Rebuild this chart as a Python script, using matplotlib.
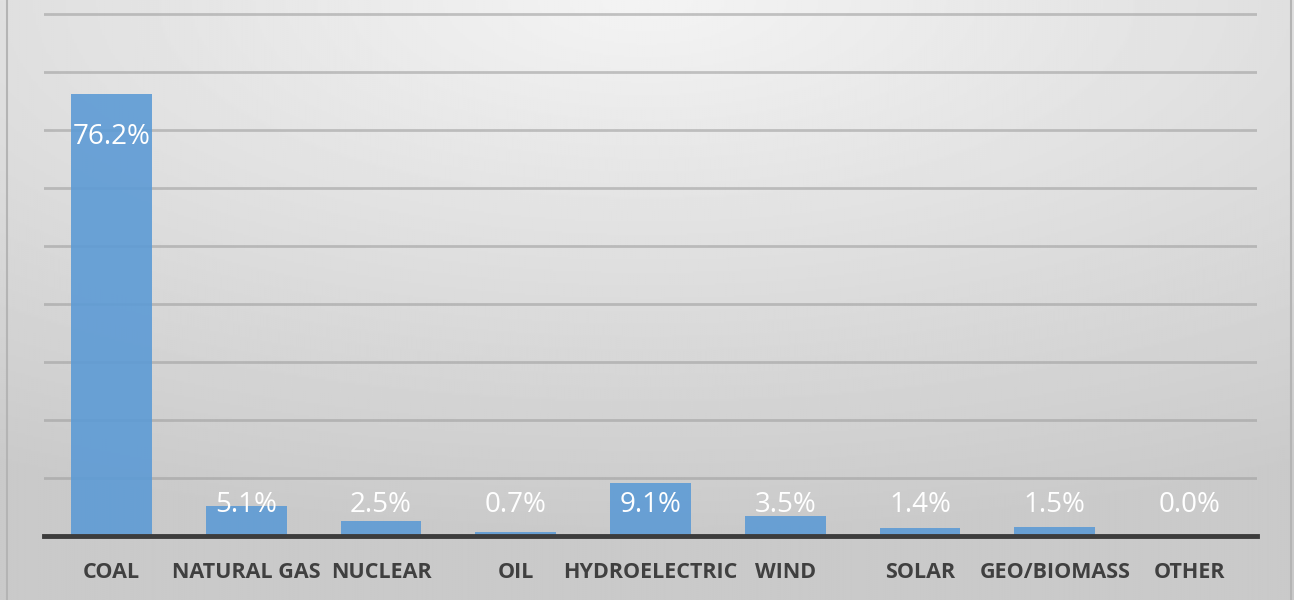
import matplotlib
matplotlib.use("Agg")
import matplotlib.pyplot as plt
import matplotlib.patches as patches
import numpy as np

categories = ["COAL", "NATURAL GAS", "NUCLEAR", "OIL", "HYDROELECTRIC",
              "WIND", "SOLAR", "GEO/BIOMASS", "OTHER"]
shares = [76.2, 5.1, 2.5, 0.7, 9.1, 3.5, 1.4, 1.5, 0.0]
value_labels = ["76.2%", "5.1%", "2.5%", "0.7%", "9.1%", "3.5%", "1.4%", "1.5%", "0.0%"]

W, H = 1294, 600
fig = plt.figure(figsize=(W / 100, H / 100), dpi=100)

# radial-ish background, light at the top centre, darker towards the bottom
bg = fig.add_axes([0, 0, 1, 1], zorder=0)
yy, xx = np.mgrid[0:1:300j, 0:1:600j]
dist = np.sqrt(((xx - 0.5) * 1.0) ** 2 + (yy * 1.15) ** 2)
shade = np.clip(0.955 - 0.16 * dist, 0.79, 1.0)
bg.imshow(shade, cmap="gray", vmin=0, vmax=1, aspect="auto",
          extent=[0, 1, 0, 1], origin="upper")
bg.add_patch(patches.Rectangle((7 / W, -0.01), (1291 - 7) / W, 1.02,
                               fill=False, edgecolor="#b4b4b4", linewidth=1.5))
bg.set_xlim(0, 1)
bg.set_ylim(0, 1)
bg.axis("off")

ax = fig.add_axes([44 / W, 64 / H, 1213 / W, 536 / H], zorder=1)
ax.patch.set_alpha(0)

x = np.arange(len(categories))
ax.bar(x, shares, width=0.6, color="#5d9bd5", alpha=0.9, zorder=3)

ax.set_xlim(-0.5, len(categories) - 0.5)
ax.set_ylim(0, 92.4)
ax.set_yticks(np.arange(10, 100, 10))
ax.yaxis.grid(True, color="#a0a0a0", linewidth=2, alpha=0.6, zorder=1)
ax.axhline(0, color="#3c3c3c", linewidth=3.5, zorder=4, clip_on=False)
for side in ax.spines.values():
    side.set_visible(False)
ax.tick_params(axis="y", left=False, labelleft=False)
ax.tick_params(axis="x", bottom=False, pad=15)
ax.set_xticks(x)
ax.set_xticklabels(categories, fontsize=15.5, fontweight="bold",
                   color="#404040", family="Open Sans")

for xi, v, lab in zip(x, shares, value_labels):
    ax.text(xi, max(v - 7.4, 5.3), lab, ha="center", va="center",
            color="white", fontsize=20, family="Open Sans", zorder=5)

fig.savefig("out.png", dpi=100)
